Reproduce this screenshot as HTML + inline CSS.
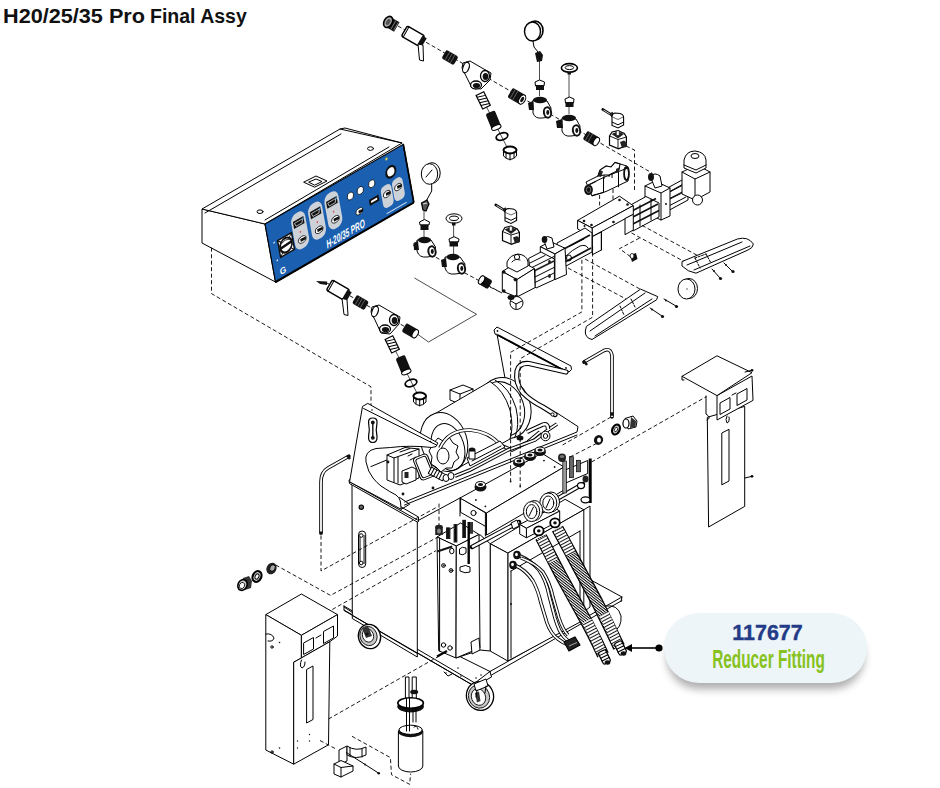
<!DOCTYPE html>
<html><head><meta charset="utf-8">
<style>
html,body{margin:0;padding:0;background:#fff;}
body{width:940px;height:788px;overflow:hidden;position:relative;font-family:"Liberation Sans",sans-serif;}
#t,#t2{position:absolute;left:3px;top:5px;font-weight:bold;font-size:19.5px;line-height:22px;color:#111;white-space:nowrap;letter-spacing:0px;transform:scaleX(1.11);transform-origin:0 0;}
#t2{left:150px;transform:scaleX(1.0);}
svg{position:absolute;left:0;top:0;}
.l{fill:none;stroke:#000;stroke-width:1;stroke-linejoin:round;stroke-linecap:round;}
.w{fill:#fff;stroke:#000;stroke-width:1;stroke-linejoin:round;}
.k{fill:#111;stroke:#000;stroke-width:1;}
.d{fill:none;stroke:#000;stroke-width:0.9;stroke-dasharray:4 2.5;}
.t{fill:none;stroke:#000;stroke-width:0.7;}
.g{fill:#bbb;stroke:#000;stroke-width:0.6;}
#callout{position:absolute;left:664px;top:613px;width:203px;height:70px;border-radius:35px;background:#edf5f8;box-shadow:0 9px 9px -3px rgba(0,0,0,0.33);}
#cn{position:absolute;left:1.5px;top:6.5px;width:100%;text-align:center;font-weight:bold;font-size:22px;color:#233b87;transform:scaleX(0.975);transform-origin:50% 0;-webkit-text-stroke:0.4px #233b87;}
#cr{position:absolute;left:-17.5px;top:31px;width:243px;text-align:center;font-size:25.6px;line-height:30px;color:#86c220;font-weight:bold;transform:scaleX(0.6);transform-origin:50% 0;}
</style></head><body>
<svg width="940" height="788" viewBox="0 0 940 788">
<defs>
  <pattern id="hatch" width="4" height="2.1" patternUnits="userSpaceOnUse" patternTransform="rotate(38)">
    <rect width="4" height="2.1" fill="#fff"/>
    <line x1="0" y1="0.5" x2="4" y2="0.5" stroke="#000" stroke-width="1"/>
  </pattern>
  <pattern id="coil" width="4" height="3" patternUnits="userSpaceOnUse" patternTransform="rotate(-28)">
    <rect width="4" height="3" fill="#fff"/>
    <line x1="0" y1="0.5" x2="4" y2="0.5" stroke="#000" stroke-width="0.9"/>
  </pattern>
</defs>
<g id="dashes">
</g>
<g id="ctrlbox">
  <!-- left face -->
  <path class="w" d="M202,209 L265,224 L275.5,282 L202,243 Z" stroke-width="1.6"/>
  <!-- top face -->
  <path class="w" d="M202,209 L340,129 L402,143 L265,224 Z" stroke-width="1.6"/>
  <path class="l" d="M205,213 L341,134 M265,220 L389,147 M340,129 L345,128 L402,143"/>
  <ellipse class="l" cx="370.5" cy="148.6" rx="3" ry="1.8"/>
  <ellipse class="l" cx="260" cy="211.7" rx="3" ry="1.8"/>
  <path class="l" d="M304,182 L316,176 L327,181 L315,187 Z M309,182 L316,179 L322,181.5 L315,185 Z"/>
  <!-- blue panel -->
  <g transform="matrix(0.867,-0.499,0.178,0.984,265,224)">
    <rect x="0" y="0" width="159.5" height="59" fill="#1a5fb0" stroke="#000" stroke-width="1.2"/>
    <path d="M0,59 L159.5,59" stroke="#000" stroke-width="2.2"/>
    <path d="M159.5,0 L159.5,59" stroke="#000" stroke-width="1.8"/>
    <g fill="#cdd1d8">
      <rect x="27.5" y="6.5" width="16" height="36" rx="7"/>
      <rect x="47" y="6.5" width="16" height="36" rx="7"/>
      <rect x="66" y="5.5" width="16" height="36" rx="7"/>
      <rect x="127" y="28" width="12" height="22" rx="5"/>
      <rect x="140" y="27.5" width="12" height="22" rx="5"/>
    </g>
    <g fill="#111">
      <rect x="29.5" y="13" width="12" height="7"/>
      <rect x="49" y="13" width="12" height="7"/>
      <rect x="68" y="12" width="12" height="7"/>
    </g>
    <g fill="none" stroke="#fff" stroke-width="0.6">
      <path d="M31,15 L40,15 L39,18.5 L32,18.5 Z"/>
      <path d="M50.5,15 L59.5,15 L58.5,18.5 L51.5,18.5 Z"/>
      <path d="M69.5,14 L78.5,14 L77.5,17.5 L70.5,17.5 Z"/>
    </g>
    <g fill="#4aa8e8"><rect x="40" y="14" width="1.2" height="2"/><rect x="59.5" y="14" width="1.2" height="2"/><rect x="78.5" y="13" width="1.2" height="2"/></g>
    <g fill="#fff" stroke="#111" stroke-width="0.8">
      <ellipse cx="36" cy="34" rx="4.5" ry="3.2"/>
      <ellipse cx="55.5" cy="34" rx="4.5" ry="3.2"/>
      <ellipse cx="74.5" cy="33" rx="4.5" ry="3.2"/>
      <ellipse cx="133" cy="37" rx="4" ry="3"/>
      <ellipse cx="146" cy="36.5" rx="4" ry="3"/>
      <ellipse cx="101" cy="38.3" rx="4" ry="3"/>
      <circle cx="94.5" cy="19.5" r="3.6"/>
      <circle cx="105.9" cy="19.6" r="3.6"/>
      <circle cx="119.1" cy="19.5" r="3.6"/>
      <circle cx="141.3" cy="18.6" r="5.2" stroke-width="2.2"/>
    </g>
    <g fill="#111">
      <path d="M34,32.5 L40,33 L40,35.5 L34,35.5 Z"/><path d="M53.5,32.5 L59.5,33 L59.5,35.5 L53.5,35.5 Z"/><path d="M72.5,31.5 L78.5,32 L78.5,34.5 L72.5,34.5 Z"/>
      <path d="M132,35.5 L137,36 L137,38.5 L132,38.5 Z"/><path d="M145,35 L150,35.5 L150,38 L145,38 Z"/><path d="M100,37.3 L105,37.8 L105,40.3 L100,40.3 Z"/>
    </g>
    <circle cx="139.2" cy="4.5" r="1.3" fill="#e8d84a"/>
    <rect x="113" y="33" width="11" height="6" fill="#111"/>
    <rect x="115" y="35" width="7" height="2" fill="#fff"/>
    <!-- rotary switch -->
    <rect x="10" y="22" width="16" height="17" fill="#fff" stroke="#111" stroke-width="1.5"/>
    <path d="M10,22 L13,25 M26,22 L23,25 M10,39 L13,36 M26,39 L23,36" stroke="#111" stroke-width="1"/>
    <circle cx="18" cy="30.5" r="6.8" fill="#fff" stroke="#111" stroke-width="2"/>
    <path d="M11.5,31 L24.5,30" stroke="#111" stroke-width="2.6"/>
    <path d="M13,27 Q18,24 23,27" fill="none" stroke="#111" stroke-width="0.8"/>
    <text x="6.5" y="55.5" fill="#fff" font-family="Liberation Sans" font-weight="bold" font-size="9">G</text>
    <text x="60" y="55.5" fill="#fff" font-family="Liberation Sans" font-weight="bold" font-size="11.5" transform="translate(60,55.5) scale(0.64,1) skewX(-8) translate(-60,-55.5)">H-20/35 PRO</text>
    <path d="M129,55 L152,55" stroke="#fff" stroke-width="1.2" opacity="0.8"/>
    <g fill="#dbe6f5"><circle cx="6" cy="22" r="0.9"/><circle cx="6" cy="40" r="0.9"/></g>
    <g fill="#e05050"><circle cx="35.5" cy="26" r="0.9"/><circle cx="55" cy="26" r="0.9"/><circle cx="74" cy="25" r="0.9"/></g>
  </g>
</g>
<g id="chain1">
  <path class="d" d="M398,26 L652,173" stroke-dasharray="5 2 1 2"/>
  <path class="d" d="M626,146 L634.5,150 L634.5,190"/>
  <path class="t" d="M483,100 L510,153 M539.5,61 L539.5,96 M569,74 L569,114"/>
  <!-- cap -->
  <g transform="rotate(30 391 23)">
    <rect x="390" y="18" width="8" height="11" fill="#111"/>
    <path d="M391,19 L391,28 M394,18 L394,29 M397,19 L397,28" stroke="#888" stroke-width="0.8"/>
    <ellipse cx="388" cy="23.5" rx="4" ry="6" fill="#aaa" stroke="#000" stroke-width="1.6"/>
    <ellipse cx="388" cy="23.5" rx="2" ry="3.2" fill="#555"/>
  </g>
  <!-- ball valve -->
  <g transform="rotate(30 413 36)">
    <rect x="403" y="30" width="20" height="12" rx="2" fill="#fff" stroke="#000" stroke-width="1.4"/>
    <path class="l" d="M405,30 L405,42"/>
    <rect x="421" y="31" width="5" height="10" fill="#111"/>
  </g>
  <path class="w" d="M418,44 L423,45 L423.5,61 L419.5,60 Z" stroke-width="1.1"/>
  <!-- nipple -->
  <g transform="rotate(30 450 57.5)"><rect x="443" y="52.5" width="14" height="10" rx="2" fill="#111"/>
   <path d="M447,53 L447,62 M450,53 L450,62 M453,53 L453,62" stroke="#777" stroke-width="0.7"/></g>
  <!-- Y strainer -->
  <path class="w" d="M463,63 L470,61 L482,68 L491,73 L490,80 L481,89 L472,88 L466,76 L462,68 Z" stroke-width="1.3"/>
  <ellipse cx="466" cy="67.5" rx="3" ry="5.5" fill="#fff" stroke="#000" stroke-width="1.2" transform="rotate(20 466 67.5)"/>
  <ellipse cx="485" cy="76" rx="4.5" ry="5.5" fill="#fff" stroke="#000" stroke-width="1.3"/>
  <ellipse cx="485.5" cy="76.5" rx="2.8" ry="3.6" fill="#111"/>
  <ellipse cx="476" cy="85" rx="5.5" ry="4" fill="#fff" stroke="#000" stroke-width="1.3"/>
  <ellipse cx="476.5" cy="85.5" rx="3.6" ry="2.6" fill="#111"/>
  <!-- fitting -->
  <g transform="rotate(30 517 96.5)"><rect x="509" y="91" width="16" height="11" rx="2" fill="#111"/>
   <ellipse cx="523" cy="96.5" rx="3" ry="5" fill="#fff" stroke="#000"/><ellipse cx="523" cy="96.5" rx="1.5" ry="3" fill="#111"/>
   <path d="M512,91 L512,102 M515,91 L515,102" stroke="#777" stroke-width="0.7"/></g>
  <!-- screen -->
  <g transform="rotate(-26 483 100.5)"><rect x="479" y="93" width="8.5" height="15" fill="#fff" stroke="#000" stroke-width="1.2"/>
   <path d="M479,95 L487.5,97 M479,98 L487.5,100 M479,101 L487.5,103 M479,104 L487.5,106" stroke="#000" stroke-width="1"/></g>
  <!-- filter -->
  <g transform="rotate(-22 493.5 120.5)"><rect x="488.5" y="111.5" width="10" height="18" rx="2" fill="#111"/>
   <ellipse cx="493.5" cy="128" rx="5" ry="2.2" fill="#fff" stroke="#000"/></g>
  <!-- o-ring -->
  <ellipse cx="502" cy="136.5" rx="6" ry="3.4" fill="none" stroke="#000" stroke-width="1.8" transform="rotate(-18 502 136.5)"/>
  <!-- plug -->
  <path class="w" d="M503.5,150 L503.5,156 Q510,163 516.5,156 L516.5,150 Z" stroke-width="1.2"/>
  <ellipse cx="510" cy="150" rx="6.5" ry="3.5" fill="#fff" stroke="#000" stroke-width="2"/>
  <path class="l" d="M506,152 L506,158 M510,153 L510,160 M514,152 L514,158" stroke-width="0.6"/>
  <!-- gauge 1 -->
  <ellipse cx="535" cy="30.5" rx="8" ry="9.5" fill="#fff" stroke="#000" stroke-width="1.6"/>
  <ellipse cx="532.5" cy="31.5" rx="8" ry="9.5" fill="#fff" stroke="#000" stroke-width="1.4"/>
  <path class="l" d="M533,41 L534,47 L538,52"/>
  <path d="M535,53 L540,51 L543,55 L542,61 L537,62 Z" fill="#111"/>
  <!-- plug tee1 -->
  <path class="w" d="M535,82 L539.5,80 L544.5,82 L544,86 L535.5,86 Z"/>
  <rect x="536" y="85" width="8" height="5" fill="#111"/>
  <!-- tee1 -->
  <path class="w" d="M533,100 L533,113 Q535,119 542,118 L550,117 L551,108 L547,101 Z" stroke-width="1.3"/>
  <ellipse cx="540" cy="100" rx="7" ry="3.3" fill="#111"/>
  <ellipse cx="547.5" cy="112.5" rx="3.6" ry="5.2" fill="#fff" stroke="#111" stroke-width="2" transform="rotate(-10 547.5 112.5)"/><ellipse cx="547.8" cy="112.5" rx="1.5" ry="2.4" fill="#111"/>
  <path d="M528,103 L533,101 L534,110 L529,110 Z" fill="#111"/>
  <!-- gauge 2 -->
  <ellipse cx="569.4" cy="67.9" rx="8" ry="4.3" fill="#fff" stroke="#000" stroke-width="1.6"/>
  <ellipse cx="569.4" cy="67.6" rx="4.2" ry="2" fill="none" stroke="#000" stroke-width="1"/>
  <rect x="567.5" y="71.5" width="3.5" height="3" fill="#111"/>
  <!-- plug tee2 -->
  <path class="w" d="M565,99 L569.5,97 L574,99 L573.5,103 L565.5,103 Z"/>
  <rect x="565.5" y="102" width="8" height="5" fill="#111"/>
  <!-- tee2 -->
  <path class="w" d="M562,118 L562,131 Q564,137 571,136 L579,135 L580,126 L576,119 Z" stroke-width="1.3"/>
  <ellipse cx="569" cy="118" rx="7" ry="3.3" fill="#111"/>
  <ellipse cx="576.5" cy="130.5" rx="3.6" ry="5.2" fill="#fff" stroke="#111" stroke-width="2" transform="rotate(-10 576.5 130.5)"/><ellipse cx="576.8" cy="130.5" rx="1.5" ry="2.4" fill="#111"/>
  <path d="M556,121 L562,119 L563,128 L557,128 Z" fill="#111"/>
  <!-- fitting -->
  <g transform="rotate(30 592 139)"><rect x="584" y="134" width="15" height="10" rx="2" fill="#111"/>
   <ellipse cx="597" cy="139" rx="2.6" ry="4.5" fill="#fff" stroke="#000"/>
   <path d="M587,134 L587,144 M590,134 L590,144" stroke="#777" stroke-width="0.7"/></g>
  <!-- solenoid connector -->
  <path d="M602.7,109.4 L611.0,114.5" stroke="#000" stroke-width="2.6" stroke-linecap="round"/>
  <path d="M603.5,110.0 L610.0,114.0" stroke="#fff" stroke-width="0.8"/>
  <path d="M609.5,113.5 L612.5,111.8 L614.5,115.5 L611.5,117.2 Z" fill="#222"/>
  <path d="M612.0,116.5 Q612.0,113.5 615.0,113.0 L620.0,113.5 Q623.6,114.5 623.6,117.5 L623.6,125.0 L618.0,128.0 L612.0,125.5 Z" fill="#fff" stroke="#000" stroke-width="1.1"/>
  <path d="M612.0,122.0 L618.0,124.8 L623.6,122.0" fill="none" stroke="#000" stroke-width="1"/>
  <path d="M612.5,117.0 L618.0,119.5 L623.2,117.0" fill="none" stroke="#000" stroke-width="0.6"/>
  <path d="M609.5,136.0 L612.0,132.0 L618.0,130.7 L624.3,133.5 L626.4,137.0 L626.4,145.5 L618.5,148.8 L609.5,145.0 Z" fill="#fff" stroke="#000" stroke-width="1.2"/>
  <path d="M611.5,134.0 L617.5,131.5 L624.0,134.0 L618.0,138.5 Z" fill="#222"/>
  <path d="M616.3,130.8 L619.3,130.8 L619.3,135.5 L616.3,135.5 Z" fill="#fff" stroke="#000" stroke-width="0.6"/>
  <path d="M609.5,136.0 L618.0,139.5 L626.4,137.0 M618.0,139.5 L618.0,148.5" fill="none" stroke="#000" stroke-width="0.9"/>
  <path d="M620.0,142.0 L624.0,140.5 L627.0,143.0 L626.5,147.0 L622.0,148.0 Z" fill="#222"/>
</g>
<g id="pumpline">
  <!-- section between manifold and right end (rails, behind) -->
  <path class="w" d="M633,207 L682,180 L688,183 L688,200 L640,226 L633,222 Z"/>
  <path class="l" d="M636,210 L683,185 M636,216 L684,191 M640,221 L686,197 M667,193 L687,182 M670,199 L688,190" stroke-width="0.8"/>
  <!-- right end block -->
  <path class="w" d="M682,172 L697,165 L710,172 L710,192 L695,200 L682,194 Z" stroke-width="1.3"/>
  <path class="l" d="M682,172 L695,179 L710,172 M695,179 L695,200"/>
  <circle cx="697.5" cy="200" r="5" class="w"/>
  <path class="w" d="M684,160 Q686,151 695,151 Q705,152 706,160 L706,168 L696,173 L684,168 Z" stroke-width="1.2"/>
  <ellipse cx="695" cy="156" rx="4" ry="2.5" class="w"/>
  <path class="l" d="M684,165 L696,170 L706,165"/>
  <!-- second center block -->
  <path class="w" d="M645,186 L655,181 L670,188 L670,216 L661,220 L645,212 Z" stroke-width="1.2"/>
  <path class="l" d="M645,186 L661,193 L670,188 M661,193 L661,220"/>
  <circle cx="666" cy="204" r="1" fill="#111"/>
  <!-- elbow -->
  <path class="w" d="M650,176 Q655,172 660,176 L662,186 L655,188 Z"/>
  <ellipse cx="651" cy="177" rx="3" ry="4" fill="#111"/>
  <!-- section 3 (rails between manifold and 2nd block), in front of block2 left face -->
  <path class="w" d="M627,207 L646,196.5 L659,203 L659,217 L633,231 L627,227 Z" stroke-width="1"/>
  <path d="M630,212 L656,198.5 M630,218.5 L658,204 M631,225 L659,210.5" stroke="#111" stroke-width="1.7"/>
  <path class="l" d="M640,205 L640,226 M651,199 L651,220" stroke-width="0.8"/>
  <!-- directional valve -->
  <path class="w" d="M586,182 L598,176 L600,170 L606,166 L611,167 L615,162.5 L620,164 L627,166 Q630,170 628,181 L606,191.5 L592,196 Z" stroke-width="1.2"/>
  <path class="l" d="M588,185 L603.5,177.5 L618.5,171.5 L628,168" stroke-width="1.1"/>
  <path class="l" d="M603.5,177.5 L603.5,192.5 M618.5,171.5 L618.5,186.8" stroke-width="1.1"/>
  <path d="M598,176 L600,170 L606,166 L611,167 L615,162.5 L620,164 L619,170 L609,175 L604,175 Z" fill="#fff" stroke="#000" stroke-width="1.1"/>
  <path d="M604,175 L604,179 M609,175 L609,177 M612,173 L612,178" stroke="#000" stroke-width="1"/>
  <path d="M598,176 L600,170 L603,171.5 L601,177 Z" fill="#222"/>
  <path d="M616,169 L619,167.5 L619,172 L616,173 Z" fill="#222"/>
  <ellipse cx="626.5" cy="173.5" rx="2.4" ry="6.5" fill="none" stroke="#111" stroke-width="1.8"/>
  <ellipse cx="588.5" cy="189.8" rx="4.4" ry="5.2" fill="#111"/>
  <ellipse cx="588.6" cy="189.8" rx="2.2" ry="2.8" fill="none" stroke="#888" stroke-width="0.8"/>
  <path class="l" d="M590,184.5 L596,181.5 M592,195.5 L603.5,192.5" stroke-width="0.8"/>
  <path class="d" d="M599.6,195 L599.6,213 M613,189 L613,213"/>
  <!-- manifold -->
  <path class="w" d="M577.6,220.4 L619.5,196.2 L633.3,205.7 L592.1,228 Z" stroke-width="1.2"/>
  <path class="w" d="M592.1,228 L633.3,205.7 L633.3,214.3 L592.1,236.6 Z" stroke-width="1.2"/>
  <path class="w" d="M577.6,220.4 L592.1,228 L592.1,236.6 L577.6,229 Z" stroke-width="1.2"/>
  <path class="w" d="M592.4,236.6 L601.4,232 L601.4,250 L592.4,254.7 Z" stroke-width="1.1"/>
  <path class="l" d="M601.4,232 L601.4,250" stroke-width="1.6"/>
  <path class="w" d="M625,218.5 L633.3,214.3 L633.3,230 L625,234.7 Z" stroke-width="1"/>
  <g fill="#111"><circle cx="584" cy="221" r="1.3"/><circle cx="591.5" cy="225" r="1.3"/><circle cx="619.5" cy="200" r="1.3"/><circle cx="627.5" cy="204.5" r="1.3"/><circle cx="613.5" cy="222" r="1.3"/><circle cx="584.5" cy="226" r="1"/></g>
  <!-- section 2: pump cylinder between block1 and manifold -->
  <path class="w" d="M557,243 L585,228 L592,233 L592,252 L566,266 L560,262 Z"/>
  <path d="M562,250 L590,235 M565,262 L591,248" stroke="#111" stroke-width="1.8"/>
  <path class="l" d="M566,256 Q572,250 580,246 Q586,244 588,248 M570,246 L584,239"/>
  <ellipse cx="569" cy="258" rx="2.5" ry="3" class="l"/>
  <!-- first center block -->
  <path class="w" d="M540.3,246.7 L550.5,241.6 L565,248.2 L554.9,254 Z" stroke-width="1.2"/>
  <path class="w" d="M540.3,246.7 L554.9,254 L554.9,279.6 L540.3,272 Z" stroke-width="1.2"/>
  <path class="w" d="M554.9,254 L565,248.2 L566.5,274.5 L554.9,279.6 Z" stroke-width="1.2"/>
  <circle cx="548" cy="266" r="1" fill="#111"/>
  <path class="w" d="M543,238 Q548,235 552,238 L554,247 L547,249 Z"/>
  <ellipse cx="544.5" cy="239.5" rx="2.8" ry="3.5" fill="#111"/>
  <!-- section 1 tie rods (in front of block1 left face) -->
  <path class="w" d="M528.6,258.4 L541,252 L554.4,259 L554.4,279.6 L536,288 L532,284 Z" stroke-width="1"/>
  <path class="l" d="M530,263 L545,255.5 M531,268 L554,256.5 M533,278 L554,267.5 M534,283 L554,273" stroke-width="0.9"/>
  <path d="M532,272 L554,261" stroke="#222" stroke-width="1.6"/>
  <path class="l" d="M535,270 L535,286" stroke-width="0.8"/>
  <ellipse cx="549.5" cy="262" rx="1.4" ry="2" fill="#222"/><ellipse cx="549.5" cy="276" rx="1.4" ry="2" fill="#222"/>
  <!-- left end block -->
  <path class="w" d="M502.3,271.5 L519.8,260.5 L534.4,268.6 L516.9,279.6 Z" stroke-width="1.2"/>
  <path class="w" d="M502.3,271.5 L516.9,279.6 L516.9,297 L502.3,291.2 Z" stroke-width="1.3"/>
  <path class="w" d="M516.9,279.6 L534.4,268.6 L535.1,287.6 L516.9,297 Z" stroke-width="1.3"/>
  <path class="w" d="M507,262 Q510,255 518,254 Q527,255 528,262 L528,266 L517,272 L507,267 Z" stroke-width="1.1"/>
  <path class="l" d="M512,262 Q515,258 520,260"/>
  <circle cx="517" cy="257" r="2.6" class="w"/>
  <g fill="#111"><circle cx="503.8" cy="272" r="1.8"/><circle cx="515.4" cy="279.6" r="1.8"/><circle cx="503.8" cy="291" r="1.8"/><circle cx="516.2" cy="296.5" r="1.8"/></g>
  <circle cx="516.5" cy="303" r="6.5" class="w" stroke-width="1.2"/>
  <path class="l" d="M511,301 L516,304 L522,301 M516,304 L516,309"/>
  <ellipse cx="511" cy="297.5" rx="3.5" ry="2.5" fill="#111"/>
  <!-- left fitting -->
  <g transform="rotate(30 485 282)"><rect x="479" y="277" width="12" height="10" rx="2" fill="#111"/>
  <ellipse cx="481" cy="282" rx="2.5" ry="4.5" fill="#fff" stroke="#000"/></g>
  <path class="d" d="M490,287 L502,293" stroke-dasharray="5 2 1 2"/>
</g>
<g id="chain2">
  <path class="d" d="M413,245 L502,293" stroke-dasharray="5 2 1 2"/>
  <path class="t" d="M424,211 L424,237 M453.6,223 L453.6,254"/>
  <!-- gauge big -->
  <ellipse cx="432" cy="173" rx="8.2" ry="10.3" class="w" stroke-width="1.5"/>
  <ellipse cx="429.5" cy="174" rx="8.2" ry="10.3" class="w" stroke-width="1.4"/>
  <path class="l" d="M426,177 L432,170" stroke-width="0.8"/>
  <path class="l" d="M431.7,184.3 L431.7,191 L426,201.4"/>
  <path d="M421.5,203 L427,200 L429,204 L426,211 L423,210 Z" fill="#555" stroke="#000" stroke-width="1.2"/><path d="M423,204 L427,203" stroke="#fff" stroke-width="0.8"/>
  <!-- plug -->
  <path class="w" d="M419.5,222 L424.5,219.5 L429.5,222 L429,225 L420,225 Z"/>
  <rect x="420.5" y="224.5" width="8" height="5.5" fill="#111"/>
  <!-- tee -->
  <path class="w" d="M417,240 L417,251 Q419,258 427,257 L434,256 L435.5,247 L431,240 Z" stroke-width="1.3"/>
  <ellipse cx="424.5" cy="240" rx="6.5" ry="3.2" fill="#111"/>
  <ellipse cx="432" cy="251.5" rx="3.6" ry="5.2" fill="#fff" stroke="#111" stroke-width="2" transform="rotate(-10 432 251.5)"/><ellipse cx="432.3" cy="251.5" rx="1.5" ry="2.4" fill="#111"/>
  <path d="M413.5,243 L418,241 L419,250 L414,250 Z" fill="#111"/>
  <!-- flat gauge -->
  <ellipse cx="454" cy="218.5" rx="8" ry="4.7" class="w" stroke-width="1.7"/>
  <ellipse cx="454" cy="218.3" rx="4.5" ry="2.2" class="l"/>
  <rect x="452" y="222.5" width="3.5" height="3" fill="#111"/>
  <!-- plug 2 -->
  <path class="w" d="M449,239 L454,236.7 L459,239 L458.5,242 L449.5,242 Z"/>
  <rect x="449.5" y="241.5" width="8.5" height="5" fill="#111"/>
  <!-- tee 2 -->
  <path class="w" d="M445,257 L445,268 Q447,275 455,274 L463,273 L465,264 L460,257 Z" stroke-width="1.3"/>
  <ellipse cx="453" cy="257" rx="6.5" ry="3.2" fill="#111"/>
  <ellipse cx="461.5" cy="268.5" rx="3.6" ry="5.2" fill="#fff" stroke="#111" stroke-width="2" transform="rotate(-10 461.5 268.5)"/><ellipse cx="461.8" cy="268.5" rx="1.5" ry="2.4" fill="#111"/>
  <path d="M441,260 L446,258 L447,267 L442,267 Z" fill="#111"/>
  <!-- solenoid connector + coil -->
  <path d="M495.7,204.9 L504.0,210.0" stroke="#000" stroke-width="2.6" stroke-linecap="round"/>
  <path d="M496.5,205.5 L503.0,209.5" stroke="#fff" stroke-width="0.8"/>
  <path d="M502.5,209.0 L505.5,207.3 L507.5,211.0 L504.5,212.7 Z" fill="#222"/>
  <path d="M505.0,212.0 Q505.0,209.0 508.0,208.5 L513.0,209.0 Q516.6,210.0 516.6,213.0 L516.6,220.5 L511.0,223.5 L505.0,221.0 Z" fill="#fff" stroke="#000" stroke-width="1.1"/>
  <path d="M505.0,217.5 L511.0,220.3 L516.6,217.5" fill="none" stroke="#000" stroke-width="1"/>
  <path d="M505.5,212.5 L511.0,215.0 L516.2,212.5" fill="none" stroke="#000" stroke-width="0.6"/>
  <path d="M502.5,231.5 L505.0,227.5 L511.0,226.2 L517.3,229.0 L519.4,232.5 L519.4,241.0 L511.5,244.3 L502.5,240.5 Z" fill="#fff" stroke="#000" stroke-width="1.2"/>
  <path d="M504.5,229.5 L510.5,227.0 L517.0,229.5 L511.0,234.0 Z" fill="#222"/>
  <path d="M509.3,226.3 L512.3,226.3 L512.3,231.0 L509.3,231.0 Z" fill="#fff" stroke="#000" stroke-width="0.6"/>
  <path d="M502.5,231.5 L511.0,235.0 L519.4,232.5 M511.0,235.0 L511.0,244.0" fill="none" stroke="#000" stroke-width="0.9"/>
  <path d="M513.0,237.5 L517.0,236.0 L520.0,238.5 L519.5,242.5 L515.0,243.5 Z" fill="#222"/>
</g>
<g id="chain3">
  <path class="t" d="M414.5,278 L476.5,314.3 L428.5,342 L418,334.5"/>
  <path class="d" d="M327,283 L418,334" stroke-dasharray="5 2 1 2"/>
  <path class="t" d="M392,344 L420,399"/>
  <path d="M316,281 L327,281.5 L327,285 L320,284 Z" fill="#111"/>
  <g transform="rotate(30 338 290)">
    <rect x="328" y="284" width="20" height="12" rx="2" fill="#fff" stroke="#000" stroke-width="1.4"/>
    <path class="l" d="M330,284 L330,296"/>
    <rect x="346" y="285" width="5" height="10" fill="#111"/>
  </g>
  <path class="w" d="M342,298.5 L347,299.5 L348,315.5 L344,314.5 Z" stroke-width="1.1"/>
  <g transform="rotate(30 360.5 302.5)"><rect x="353.5" y="297.5" width="14" height="10" rx="2" fill="#111"/>
   <path d="M357,298 L357,307 M360,298 L360,307 M363,298 L363,307" stroke="#777" stroke-width="0.7"/></g>
  <path class="w" d="M372,307 L379,305 L391,312 L400,317 L399,324 L390,334 L381,333 L375,320 L371,312 Z" stroke-width="1.3"/>
  <ellipse cx="375" cy="311.5" rx="3" ry="5.5" fill="#fff" stroke="#000" stroke-width="1.2" transform="rotate(20 375 311.5)"/>
  <ellipse cx="394" cy="320" rx="4.5" ry="5.5" fill="#fff" stroke="#000" stroke-width="1.3"/>
  <ellipse cx="394.5" cy="320.5" rx="2.8" ry="3.6" fill="#111"/>
  <ellipse cx="385" cy="329" rx="5.5" ry="4" fill="#fff" stroke="#000" stroke-width="1.3"/>
  <ellipse cx="385.5" cy="329.5" rx="3.6" ry="2.6" fill="#111"/>
  <g transform="rotate(30 410.5 331)"><rect x="403" y="326" width="15" height="10" rx="2" fill="#111"/>
   <ellipse cx="416" cy="331" rx="2.6" ry="4.5" fill="#fff" stroke="#000"/></g>
  <g transform="rotate(-26 392 344.5)"><rect x="388" y="337" width="8.5" height="15" fill="#fff" stroke="#000" stroke-width="1.2"/>
   <path d="M388,339 L396.5,341 M388,342 L396.5,344 M388,345 L396.5,347 M388,348 L396.5,350" stroke="#000" stroke-width="1"/></g>
  <g transform="rotate(-22 403.5 365)"><rect x="398.5" y="356" width="10" height="18" rx="2" fill="#111"/>
   <ellipse cx="403.5" cy="372.5" rx="5" ry="2.2" fill="#fff" stroke="#000"/></g>
  <ellipse cx="411" cy="383" rx="6" ry="3.4" fill="none" stroke="#000" stroke-width="1.8" transform="rotate(-18 411 383)"/>
  <path class="w" d="M413.5,396 L413.5,402 Q419.5,409 426,402 L426,396 Z" stroke-width="1.2"/>
  <ellipse cx="419.7" cy="396" rx="6.3" ry="3.5" fill="#fff" stroke="#000" stroke-width="2"/>
  <path class="l" d="M416,398 L416,404 M419.7,399 L419.7,406 M423.5,398 L423.5,404" stroke-width="0.6"/>
</g>
<g id="trays">
  <!-- upper tray -->
  <path class="w" d="M682,261.5 L737.4,239 Q748,236 753.4,244 Q753,248 748,250 L696,273.2 Q688,272 682,266 Z" stroke-width="1.2"/>
  <path class="l" d="M687,265 L742,242 M694,270 L750,246" stroke-width="0.8"/>
  <path class="l" d="M695,258 L700,268 M706,254 L711,263 M695,258 L706,254" stroke-width="0.6" stroke-dasharray="2 1.5"/>
  <g class="l" stroke-width="1"><path d="M712,269 L720,278 M724,263 L732,271"/></g>
  <g fill="#111"><circle cx="720.5" cy="278.5" r="1.6"/><circle cx="733" cy="271.5" r="1.6"/><circle cx="714" cy="271" r="1"/><circle cx="726" cy="265" r="1"/></g>
  <!-- knob -->
  <ellipse cx="689" cy="288.5" rx="8.5" ry="10" class="w" stroke-width="1.2"/>
  <ellipse cx="686.5" cy="289" rx="8.5" ry="10" class="w" stroke-width="1.2"/>
  <circle cx="687" cy="289" r="0.8" fill="#555"/>
  <!-- lower tray -->
  <path class="w" d="M586.4,326.4 L640.6,289.1 L657.7,296.6 L656.6,299.8 L592,339.5 Q585,338 585.3,331 Z" stroke-width="1.2"/>
  <path class="l" d="M590,331 L645,293 M595,336 L652,299" stroke-width="0.8"/>
  <path class="l" d="M620,306 L624,315 M631,299 L635,307" stroke-width="0.6" stroke-dasharray="2 1.5"/>
  <g class="l" stroke-width="1"><path d="M664,299 L676,306 M650,308 L662,316"/></g>
  <g fill="#111"><circle cx="676.5" cy="306.5" r="1.6"/><circle cx="662.5" cy="316.5" r="1.6"/><circle cx="666" cy="300.5" r="1"/><circle cx="652" cy="309.5" r="1"/></g>
  <!-- small fitting -->
  <path d="M630,255 L636,253 L637.5,259 L632,262 Z" fill="#111"/>
  <ellipse cx="632" cy="256" rx="2" ry="2.5" fill="#fff" stroke="#000" stroke-width="0.8"/>
</g>
<g id="dash2">
  <path class="d" d="M568,268 L626,299 M585,259 L641,289.6"/>
  <path class="d" d="M639.6,238 L619.4,248.7 L632,257.7"/>
  <path class="d" d="M631.5,233 L683.6,261.2 M642,225.4 L697,255.2"/>
  <path class="d" d="M211.5,247.7 L211.5,293.6 L371,386.8 L371,406"/>
</g>
<g id="bracketarm">
  <!-- U tube -->
  <path d="M584,362 L604,350.5 Q611,347.5 612,356 L612,417" fill="none" stroke="#000" stroke-width="3.6" stroke-linecap="round"/>
  <path d="M584,362 L604,350.5 Q611,347.5 612,356 L612,417" fill="none" stroke="#fff" stroke-width="1.8"/>
  <path d="M583.5,360.5 L587,365" stroke="#111" stroke-width="2.5"/>
  <path d="M610.3,414 L613.7,414" stroke="#111" stroke-width="3.5"/>
  <!-- support arm -->
  <path class="w" d="M494,330 L497,327 L571,366 Q573,370 569,372 L566,371 L495,334 Z" stroke-width="1.2"/>
  <circle cx="497.5" cy="331" r="0.9" fill="#111"/><circle cx="566" cy="368" r="0.9" fill="#111"/>
  <path class="l" d="M497,334 L507.7,393"/>
  <path d="M498,335 L566,371.5" stroke="#000" stroke-width="1.8"/>
</g>
<g id="cabinet">
  <!-- cart base -->
  <path d="M344,606 L474.9,684 L492,674 L622,599 L622,594 L592,579 L560,590 L420,600 L344,603 Z" fill="#fff"/>
  <path class="l" d="M344,606 L344,610 L474.9,686.4 L491.5,677 L490,671.5 M344,606 L474.9,683 L490,671.5 M474.9,683 L474.9,686.4" stroke-width="1.1"/>
  <path class="l" d="M490,671.5 L622,597 M491.5,675 L622,600.5" stroke-width="1.1"/>
  <path class="l" d="M460,656.6 L490,671.5" stroke-width="1"/>
  <path class="l" d="M592,580.6 L622,597 L621,601.5" stroke-width="1"/>
  <!-- left cabinet body -->
  <path class="w" d="M352,484 L417.3,521 L417.3,657 L352.3,618.5 Z" stroke-width="1.2"/>
  <path class="l" d="M344,607 L352.5,612.5 M344,610.5 L474.9,686.4" stroke-width="1.1"/>
  <path class="l" d="M352.5,615.5 L417.3,653.5" stroke-width="0.7"/>
  <!-- heater box (right) -->
  <path class="w" d="M490.2,543.7 L565.1,499.3 L583.8,509.8 L507.8,553.1 Z" stroke-width="1.2"/>
  <path class="w" d="M507.8,553.1 L583.8,509.8 L583.8,620 L507.8,661 Z" stroke-width="1.2"/>
  <path class="w" d="M490.2,543.7 L507.8,553.1 L507.8,661 L490.2,651 Z" stroke-width="1.2"/>
  <path class="l" d="M511,571 L580,531 M511,571 L511,658 M580,531 L580,617" stroke-width="0.8"/>
  <circle cx="511" cy="604" r="1" fill="#111"/>
  <!-- right cabinet body behind heat exchanger -->
  <path d="M460,498 L486.5,513 L486.5,545 L456,548 L456,520 Z" fill="#fff"/>
  <path class="l" d="M460.6,498.2 L485.4,512.8 L485.4,536 M460.6,498.2 L460.6,512.3 L485.4,526.3" stroke-width="1.1"/>
  <circle cx="473.5" cy="513" r="2.6" class="l" stroke-width="1"/>
  <path class="w" d="M456,548 L480,534.7 L490.2,543.7 L490.2,651 L480,650 L456,658 Z" stroke-width="1"/>
  <!-- right cabinet top face -->
  <path class="w" d="M460,498 L541.8,453.2 L564,467 L486.5,513 Z" stroke-width="1.2"/>
  <path class="w" d="M486.5,513 L564,467 L564,490 L490.2,533 L486.5,535 Z" stroke-width="1.2"/>
  <path class="l" d="M417.3,521 L460,498" stroke-width="1.2"/>
  <path class="l" d="M460,498 L460,516" stroke-width="0.9"/>
  <g fill="#111"><circle cx="544" cy="460.6" r="0.9"/><circle cx="554.6" cy="467" r="0.9"/><circle cx="475.9" cy="500" r="0.9"/><circle cx="485.4" cy="506.4" r="0.9"/></g>
  <!-- heat exchanger -->
  <path class="w" d="M437,537 L460.6,523 L479,534.5 L456.3,546 Z" stroke-width="1.1"/>
  <path class="w" d="M437,537 L456.3,546 L456,658 L438.7,650.7 Z" stroke-width="1.3"/>
  <path class="w" d="M456.3,546 L479,534.5 L480,648 L456,658 Z" stroke-width="1.2"/>
  <path class="l" d="M439.6,538 L439.6,651" stroke-width="1.6"/>
  <g class="l" stroke-width="1.2"><circle cx="443.5" cy="565.5" r="1.9"/><circle cx="451" cy="570.5" r="1.9"/><circle cx="443.5" cy="645" r="2.2"/><circle cx="450" cy="648" r="2.2"/></g>
  <g fill="#222"><circle cx="443.5" cy="565.5" r="1"/><circle cx="451" cy="570.5" r="1"/></g>
  <!-- cabinet top lip (left) -->
  <path class="w" d="M349,480 L352,478.5 L418.5,517 L418.5,521.5 L417.3,522 L349.5,483.5 Z" stroke-width="1"/>
  <path class="l" d="M350,482 L417.5,520" stroke-width="1.6"/>
  <!-- handle and screw on left face -->
  <rect x="358.5" y="531" width="7.2" height="36.5" rx="3.6" class="w" stroke-width="1.1"/>
  <path d="M360,537 L360,563" stroke="#000" stroke-width="1"/>
  <rect x="363.2" y="535" width="1.8" height="29" fill="#777"/>
  <circle cx="361.2" cy="535.5" r="1.8" class="w" stroke-width="1.2"/>
  <circle cx="361.2" cy="563" r="1.8" class="w" stroke-width="1.2"/>
  <circle cx="361.3" cy="507.2" r="2.2" fill="#666" stroke="#000" stroke-width="1.1"/>
  <!-- wheels -->
  <ellipse cx="369.5" cy="636.5" rx="11" ry="12.3" fill="#fff" stroke="#000" stroke-width="1.3" transform="rotate(-20 369.5 636.5)"/>
  <ellipse cx="368.5" cy="636" rx="8.5" ry="9.8" fill="#c8c8c8" stroke="#000" stroke-width="0.8" transform="rotate(-20 368.5 636)"/>
  <ellipse cx="368" cy="635.5" rx="5.5" ry="6.8" fill="#fff" stroke="#000" stroke-width="0.8" transform="rotate(-20 368 635.5)"/>
  <path d="M362,628 L368,626 L372,636 L366,638 Z" fill="#333"/>
  <circle cx="367" cy="634" r="1.6" fill="#111"/>
  <ellipse cx="480" cy="696" rx="13.5" ry="14.5" fill="#fff" stroke="#000" stroke-width="1.3" transform="rotate(-20 480 696)"/>
  <ellipse cx="479" cy="696.5" rx="10.5" ry="11.8" fill="#c8c8c8" stroke="#000" stroke-width="0.8" transform="rotate(-20 479 696.5)"/>
  <ellipse cx="478.5" cy="697" rx="7" ry="8.5" fill="#fff" stroke="#000" stroke-width="0.8" transform="rotate(-20 478.5 697)"/>
  <path d="M475,693 L479,691.5 L480.5,701 L477,702.5 Z" fill="#333"/>
  <path class="w" d="M474,684 L486,679 L488,686 L476,691 Z"/>
  <path class="l" d="M477,690 L476,697 M486,686 L485,693" stroke-width="1"/>
  <path class="l" d="M606,606 Q618,604 621,616 Q622,628 613,632" stroke-width="1.2"/>
</g>
<g id="motor">
  <!-- platform -->
  <path d="M370,467 L389,459 L556.7,412.8 L578,426.6 L577,432 L404.6,502 L395,497 Z" fill="#fff"/>
  <path class="l" d="M370.9,466.6 L389.2,459 M404.6,502 L577,432 L578,426.6 L556.7,412.8" stroke-width="1.1"/>
  <path class="l" d="M404.6,505 L577,435" stroke-width="0.9"/>
  <!-- S strap -->
  <!-- junction box -->
  <path class="w" d="M450,390 L463,385 L473,389 L473,398 L460,404 L450,400 Z" stroke-width="1.1"/>
  <path class="l" d="M450,390 L460,394 L473,389 M460,394 L460,404"/>
  <!-- back end bell -->
  <ellipse cx="505" cy="408" rx="25.5" ry="31" transform="rotate(-18 505 408)" class="w" stroke-width="1.2"/>
  <ellipse cx="502" cy="409" rx="22" ry="28" transform="rotate(-18 502 409)" class="l" stroke-width="0.8"/>
  <path d="M566,372 L529,363.5 Q519,362.5 517,371 Q515,383 523,393 Q531,401 543,407 L555,414.5" fill="none" stroke="#000" stroke-width="5.2" stroke-linecap="round"/>
  <path d="M566,372 L529,363.5 Q519,362.5 517,371 Q515,383 523,393 Q531,401 543,407 L555,414.5" fill="none" stroke="#fff" stroke-width="3" stroke-linecap="round"/>
  <circle cx="552.5" cy="414.5" r="1.6" class="w" stroke-width="1.2"/>
  <!-- body -->
  <path d="M428,418 L490,381.5 Q504,390 510,410 Q514,428 510,439 L460,467 Z" fill="#fff" stroke="none"/>
  <path class="l" d="M426,419 L490,381.5 M460,467 L510,439" stroke-width="1.2"/>
  <path class="l" d="M490,381.5 Q504,390 510,410 Q514,428 510,439" stroke-width="0.9"/>
  <path class="l" d="M495,380 Q510,388 516,408 Q520,426 515,437" stroke-width="0.8"/>
  <!-- front end bell -->
  <ellipse cx="444" cy="442" rx="23" ry="30" transform="rotate(-18 444 442)" class="w" stroke-width="1.2"/>
  <ellipse cx="448" cy="447" rx="16" ry="24" transform="rotate(-18 448 447)" class="l" stroke-width="0.9"/>
  <!-- pump -->
  <path class="w" d="M387,455 L405,447.5 L419,449 L419,478 L400,485 L387,480 Z" stroke-width="1"/>
  <path class="l" d="M387,455 L394,458 L419,449 M394,458 L394,482 M398,457 L398,483" stroke-width="0.8"/>
  <path class="l" d="M400,452 L410,448.5" stroke-width="0.8"/>
  <path class="w" d="M402,471 L412,467 L416,469 L416,480 L406,484 L402,482 Z" stroke-width="0.9"/>
  <rect x="404.5" y="472" width="4" height="6" fill="#222"/>
  <path class="l" d="M408,456 L412,454 M410,460 L416,457" stroke-width="0.8"/>
  <g transform="rotate(-22 424 467)">
    <rect x="416.5" y="455" width="15" height="24" rx="3.5" class="w" stroke-width="1.1"/>
    <rect x="418.5" y="457" width="11" height="20" rx="2.5" class="l" stroke-width="0.8"/>
  </g>
  <path class="w" d="M433,444 L438,438 L443,441 L449,437 L453,443 L458,446 L456,452 L459,458 L454,462 L452,468 L446,468 L441,472 L436,467 L431,464 L432,457 L429,451 Z" stroke-width="1"/>
  <ellipse cx="443" cy="456" rx="6" ry="8" class="w" stroke-width="1"/>
  <g transform="rotate(28 437 474)">
    <rect x="429" y="470.5" width="16" height="7" class="w" stroke-width="1"/>
    <path class="l" d="M432,470.5 L432,477.5 M435,470.5 L435,477.5 M438,470.5 L438,477.5 M441,470.5 L441,477.5" stroke-width="0.8"/>
  </g>
  <ellipse cx="446" cy="478" rx="3" ry="3.5" class="w" stroke-width="1.2"/>
  <ellipse cx="451" cy="476" rx="3" ry="3.5" class="w" stroke-width="1.2"/>
  <!-- bracket plate (left side) with cutout -->
  <path class="w" d="M362.5,406.4 L367.8,403.4 L437.9,443 L436,446.5 L431.8,447.5 Q410,445 390.7,447.5 L376,448.5 Q364,451 366,462 Q368,472 373,478 Q377,483 381,486 Q390,492 396,495 Q399.5,497.5 400.3,501 L401.2,509.3 L349.6,481.8 Z" stroke-width="1.2"/>
  <path class="l" d="M399.5,497.4 L409.7,504.2 L401.2,509.3" stroke-width="1.1"/>
  <path class="l" d="M363.6,408.5 L436.4,445" stroke-width="0.9"/>
  <path d="M372.8,418 Q377.5,418 377,423 Q375.5,430 377,436 Q377.5,442.5 372.8,442.5 Q368,442.5 368.6,436 Q370,430 368.6,423 Q368,418 372.8,418 Z" fill="#fff" stroke="#000" stroke-width="1.2"/>
  <circle cx="372.8" cy="422.5" r="1.9" fill="#111"/><circle cx="372.8" cy="437.8" r="1.9" fill="#111"/>
  <path d="M372.8,423 L372.8,437" stroke="#111" stroke-width="1.4"/>
  <circle cx="372" cy="410" r="0.8" fill="#111"/>
  <g fill="#111"><circle cx="388" cy="462" r="1.4"/><circle cx="403" cy="494" r="1.4"/><circle cx="433" cy="488" r="1.4"/><circle cx="430.5" cy="441.5" r="0.8"/></g>
  <!-- hoses over motor -->
  <path d="M440,448 Q448,430 470,430 Q490,432 500,445 L512,450 L528,442 L540,432" fill="none" stroke="#000" stroke-width="3.6"/>
  <path d="M440,448 Q448,430 470,430 Q490,432 500,445 L512,450 L528,442 L540,432" fill="none" stroke="#fff" stroke-width="1.8"/>
  <path d="M455,476 L470,470 L508,450 L535,440 L548,430 L557,424" fill="none" stroke="#000" stroke-width="3.6"/>
  <path d="M455,476 L470,470 L508,450 L535,440 L548,430 L557,424" fill="none" stroke="#fff" stroke-width="1.8"/>
  <path class="w" d="M467,458 L500,441 L505,447 L470,466 Z" stroke-width="1"/>
  <path class="l" d="M472,461 L501,446" stroke-width="0.7"/>
  <!-- elbow right -->
  <path d="M527,432 Q537,427 543,424.5 Q548,423 548,429" fill="none" stroke="#000" stroke-width="4.4"/>
  <path d="M527,432 Q537,427 543,424.5 Q548,423 548,429" fill="none" stroke="#fff" stroke-width="2.4"/>
  <ellipse cx="545.5" cy="436" rx="4.5" ry="4.8" class="w" stroke-width="1.4"/>
  <ellipse cx="545.5" cy="436" rx="2.2" ry="2.4" class="l"/>
  <!-- fittings on platform -->
  <g>
    <ellipse cx="519" cy="463" rx="6" ry="4" fill="#111"/><ellipse cx="519" cy="461" rx="5" ry="3" fill="#fff" stroke="#000"/><ellipse cx="519" cy="461" rx="2.6" ry="1.5" fill="#111"/>
    <ellipse cx="530" cy="457" rx="6" ry="4" fill="#111"/><ellipse cx="530" cy="455" rx="5" ry="3" fill="#fff" stroke="#000"/><ellipse cx="530" cy="455" rx="2.6" ry="1.5" fill="#111"/>
    <ellipse cx="540" cy="452" rx="6" ry="4" fill="#111"/><ellipse cx="540" cy="450" rx="5" ry="3" fill="#fff" stroke="#000"/><ellipse cx="540" cy="450" rx="2.6" ry="1.5" fill="#111"/>
    <ellipse cx="480.5" cy="487" rx="6" ry="4.5" fill="#111"/><ellipse cx="480.5" cy="484.5" rx="5" ry="3" fill="#fff" stroke="#000"/><ellipse cx="480.5" cy="484.5" rx="2.6" ry="1.5" fill="#111"/>
    <ellipse cx="472" cy="450" rx="3.5" ry="2.5" fill="#111"/><rect x="469" y="451" width="6" height="8" class="w"/>
    <ellipse cx="520" cy="438" rx="3.5" ry="2.5" fill="#111"/>
  </g>
</g>
<g id="front">
  <!-- right side vertical of cabinet/heater -->
  <path class="l" d="M583.8,509.8 L590,506 L590,607 L583.8,612" stroke-width="1"/>
  <!-- pipe from gauge block up right -->
  <path d="M555,500 L583,484" stroke="#000" stroke-width="4.5" stroke-linecap="round"/>
  <path d="M555,500 L583,484" stroke="#fff" stroke-width="2.5"/>
  <!-- gauge block -->
  <path class="w" d="M519.7,524.4 L554,507.3 L559.7,511.1 L526.4,528.3 Z" stroke-width="1.1"/>
  <path class="w" d="M526.4,528.3 L559.7,511.1 L559.7,520.6 L526.4,537.8 Z" stroke-width="1.1"/>
  <path class="w" d="M519.7,524.4 L526.4,528.3 L526.4,537.8 L519.7,534 Z" stroke-width="1.1"/>
  <!-- gauges -->
  <ellipse cx="551" cy="502" rx="8.5" ry="10" class="w" stroke-width="1.3"/>
  <ellipse cx="548.3" cy="503" rx="8.5" ry="10" class="w" stroke-width="1.5"/>
  <ellipse cx="548.3" cy="503" rx="5.5" ry="7" class="l" stroke-width="0.8"/>
  <path class="l" d="M546,508 L550,499" stroke-width="1.1"/>
  <ellipse cx="534.5" cy="510.5" rx="8.1" ry="10" class="w" stroke-width="1.3"/>
  <ellipse cx="531.6" cy="511.6" rx="8.1" ry="10" class="w" stroke-width="1.5"/>
  <ellipse cx="531.6" cy="511.6" rx="5.3" ry="7" class="l" stroke-width="0.8"/>
  <path class="l" d="M529,516 L533.5,507" stroke-width="1.1"/>
  <!-- pipe from heat exchanger to gauge block -->
  <path d="M472,547 L519,522" stroke="#000" stroke-width="4.5" stroke-linecap="round"/>
  <path d="M472,547 L519,522" stroke="#fff" stroke-width="2.5"/>
  <path class="w" d="M511,523 L517,520 L519,526 L513,529 Z"/>
  <!-- thin hoses -->
  <g fill="none">
    <path d="M518,555 Q532,561 539,570 Q546,580 549,595 L555,618 Q559,632 564,637 Q568,641 571,643" stroke="#000" stroke-width="3.6"/>
    <path d="M518,555 Q532,561 539,570 Q546,580 549,595 L555,618 Q559,632 564,637 Q568,641 571,643" stroke="#fff" stroke-width="1.8"/>
    <path d="M521,558 Q535,563 543,572 Q550,583 553,597 L559,618 Q563,630 568,635" stroke="#000" stroke-width="3.4"/>
    <path d="M521,558 Q535,563 543,572 Q550,583 553,597 L559,618 Q563,630 568,635" stroke="#fff" stroke-width="1.6"/>
    <path d="M514.5,565 Q526,570 533,581 Q538,590 541,603 L547,623 Q551,634 558,639 Q562,642 566,644" stroke="#000" stroke-width="3.6"/>
    <path d="M514.5,565 Q526,570 533,581 Q538,590 541,603 L547,623 Q551,634 558,639 Q562,642 566,644" stroke="#fff" stroke-width="1.8"/>
  </g>
  <path d="M564,642 L575,637 L580,645 L569,651 Z" fill="#222" stroke="#000" stroke-width="1.1"/>
  <path d="M569,646 L577,642.5" stroke="#aaa" stroke-width="1"/>
  <g fill="#111"><ellipse cx="517" cy="555" rx="3.8" ry="4.2"/><ellipse cx="513" cy="565" rx="3.8" ry="4.2"/></g>
  <g fill="#fff"><ellipse cx="516.5" cy="554.5" rx="1.4" ry="1.8"/><ellipse cx="512.5" cy="564.5" rx="1.4" ry="1.8"/></g>
  <!-- big hoses -->
  <g fill="none">
    <path d="M541,537 Q560,575 580,610 Q594,635 603,655" stroke="#000" stroke-width="12.5"/>
    <path d="M541,537 Q560,575 580,610 Q594,635 603,655" stroke="url(#hatch)" stroke-width="10"/>
    <path d="M557.5,528.6 Q577,565 597,602 Q610,628 619,647" stroke="#000" stroke-width="12.5"/>
    <path d="M557.5,528.6 Q577,565 597,602 Q610,628 619,647" stroke="url(#hatch)" stroke-width="10"/>
    <path d="M541.5,538 Q547,548 553,561" stroke="url(#coil)" stroke-width="10"/>
    <path d="M558,529.6 Q564,540 571,554" stroke="url(#coil)" stroke-width="10"/>
    <path d="M587,621 Q594,634 601,651" stroke="url(#coil)" stroke-width="10"/>
    <path d="M604,614 Q611,628 617,643" stroke="url(#coil)" stroke-width="10"/>
  </g>
  <!-- hose end fittings top -->
  <ellipse cx="538.8" cy="530.8" rx="4.8" ry="4.5" fill="#fff" stroke="#000" stroke-width="1.8"/>
  <ellipse cx="538.8" cy="530.8" rx="1.8" ry="1.6" fill="#111"/>
  <ellipse cx="555" cy="522.8" rx="4.8" ry="4.5" fill="#fff" stroke="#000" stroke-width="1.8"/>
  <ellipse cx="555" cy="522.8" rx="1.8" ry="1.6" fill="#111"/>
  <!-- hose end nozzles bottom -->
  <g transform="rotate(64 604.5 657)"><rect x="598" y="653" width="13" height="8" rx="2" fill="#fff" stroke="#000" stroke-width="1.2"/><path class="l" d="M601,653 L601,661 M604,653 L604,661 M607,653 L607,661"/></g>
  <g transform="rotate(64 620.5 648)"><rect x="614" y="644" width="13" height="8" rx="2" fill="#fff" stroke="#000" stroke-width="1.2"/><path class="l" d="M617,644 L617,652 M620,644 L620,652 M623,644 L623,652"/></g>
  <ellipse cx="607.5" cy="662.5" rx="2.8" ry="2.2" fill="#111"/><ellipse cx="623.5" cy="653.5" rx="2.8" ry="2.2" fill="#111"/>
  <!-- heat exchanger top fittings -->
  <g>
    <path d="M446,527.4 L450.4,527.4 L450.4,539 L446,539 Z" fill="#222"/>
    <path d="M453.6,524 L457.4,524 L457.4,542.5 L453.6,542.5 Z" fill="#222"/>
    <path d="M462.2,519.8 L466,519.8 L466,538 L462.2,538 Z" fill="#222"/>
    <path d="M469.2,522 L473,522 L473,533.8 L469.2,533.8 Z" fill="#333"/>
    <path class="l" d="M448,528 L448,538 M455.5,525 L455.5,541 M464,521 L464,537" stroke="#888" stroke-width="0.8"/>
    <ellipse cx="439" cy="527" rx="3.8" ry="2.2" fill="#222"/>
    <rect x="435.2" y="527" width="7.6" height="8" fill="#222"/>
    <ellipse cx="439" cy="531" rx="2" ry="2.5" fill="#888"/>
    <path d="M468.7,522 L468.7,564" stroke="#000" stroke-width="2.4"/>
    <path class="w" d="M460,567 Q466,564 470,567 L470,572 Q465,574 460,571 Z" stroke-width="1.2"/>
    <path class="w" d="M459.5,549 Q462,546 466,548 L466,553 Q463,556 459.5,554 Z" stroke-width="1.3"/>
    <path d="M452,545.5 L437,550.5 L437.5,552.5 L452.5,547.5 Z" fill="#111"/>
    <ellipse cx="451.8" cy="551" rx="2.2" ry="2.8" class="w" stroke-width="1.2"/>
    <path class="d" d="M439,503.6 L439,525"/>
  </g>
  <!-- right fitting cluster -->
  <g>
    <path class="w" d="M564.3,470.4 L587.7,460.5 L587.7,473.5 L564.3,483.6 Z" stroke-width="1"/>
    <rect x="562.8" y="461" width="3.6" height="32" fill="#999" stroke="#000" stroke-width="0.7"/>
    <ellipse cx="562" cy="457.8" rx="4" ry="4.2" fill="#222"/>
    <ellipse cx="562" cy="456.5" rx="2.2" ry="1.5" fill="#777"/>
    <rect x="569.4" y="456.7" width="4" height="21" fill="#666" stroke="#000" stroke-width="0.7"/>
    <rect x="576.5" y="460.3" width="4" height="11.5" fill="#666" stroke="#000" stroke-width="0.7"/>
    <path d="M590.2,458.5 L590.2,503" stroke="#000" stroke-width="3"/>
    <ellipse cx="585.5" cy="479" rx="3" ry="3.6" fill="#222"/>
    <ellipse cx="585.5" cy="499.8" rx="4.5" ry="3" fill="#fff" stroke="#000" stroke-width="1.2"/>
    <ellipse cx="581" cy="485.6" rx="3.5" ry="3" fill="#fff" stroke="#000" stroke-width="1.2"/>
  </g>
  <path d="M447,651 L437,656.5" stroke="#000" stroke-width="2.2"/>
  <path class="w" d="M471,642 L479,638 L480,650 L472,654 Z" stroke-width="0.9"/>
  <path class="l" d="M444,672 L448,676 L452,674" stroke-width="0.9"/>
  <!-- cart base front strip detail -->
  <g fill="#111"><circle cx="446" cy="673" r="0.8"/><circle cx="458" cy="668" r="0.8"/><circle cx="461" cy="676" r="0.8"/><circle cx="476" cy="678" r="0.8"/><circle cx="481" cy="675" r="0.8"/></g>
</g>
<g id="lowerleft">
  <!-- tube -->
  <path d="M348.8,456.2 L328,468 Q321,472 321,482 L321,533" fill="none" stroke="#000" stroke-width="3.6" stroke-linecap="round"/>
  <path d="M348.8,456.2 L328,468 Q321,472 321,482 L321,533" fill="none" stroke="#fff" stroke-width="1.8"/>
  <path d="M347,455.5 L350,459" stroke="#111" stroke-width="2.6"/>
  <path d="M319.5,533 L322.5,533" stroke="#111" stroke-width="3"/>
  <!-- three fittings -->
  <g>
    <ellipse cx="271.5" cy="568.5" rx="5" ry="6" fill="#222" transform="rotate(25 271.5 568.5)"/>
    <ellipse cx="272.5" cy="568" rx="2.6" ry="3.4" fill="#aaa" stroke="#000" stroke-width="0.8" transform="rotate(25 272.5 568)"/>
    <ellipse cx="257" cy="576.5" rx="4.2" ry="5.6" fill="#ddd" stroke="#000" stroke-width="2.2" transform="rotate(25 257 576.5)"/>
    <ellipse cx="257" cy="576.5" rx="1.8" ry="2.8" fill="#fff" stroke="#000" stroke-width="1" transform="rotate(25 257 576.5)"/>
    <path d="M243,578 L249,576 L252,581 L251,588 L245,590 L242,586 Z" fill="#333"/>
    <ellipse cx="242.5" cy="585" rx="4.5" ry="5.5" fill="#ccc" stroke="#000" stroke-width="1.6" transform="rotate(25 242.5 585)"/>
    <ellipse cx="242" cy="585.5" rx="2.5" ry="3.2" fill="#fff" stroke="#000" stroke-width="0.8" transform="rotate(25 242 585.5)"/>
  </g>
  <!-- left panel -->
  <path class="w" d="M265.8,614.6 L301.4,594 L337.5,614.6 L301.4,635.3 Z" stroke-width="1.2"/>
  <path class="w" d="M265.8,614.6 L301.4,635.3 L301.4,660 L293.7,662.3 L293.7,764.2 L265.8,750 Z" stroke-width="1.2"/>
  <path class="w" d="M301.4,635.3 L337.5,614.6 L337.5,636 L329.8,641.7 L293.7,662.3 L301.4,660 Z" stroke-width="1.2"/>
  <path class="w" d="M293.7,662.3 L329.8,641.7 L328.5,744.8 L293.7,764.2 Z" stroke-width="1.2"/>
  <path class="w" d="M306.6,669.5 L313,666 L313,719.5 L306.6,723 Z" stroke-width="1"/>
  <path class="w" d="M303.6,643 L313.5,637.5 L313.5,649 L303.6,654.5 Z" stroke-width="1.1"/>
  <path class="w" d="M323.5,631.5 L333.5,626 L333.5,638 L323.5,643.5 Z" stroke-width="1.1"/>
  <path class="l" d="M316,638 L321,635" stroke-width="1.5"/>
  <path class="l" d="M301.5,660 Q299,666 302,668 Q305,667 305,662" stroke-width="1.1"/>
  <path class="l" d="M265.8,634 Q272,633 274,638 Q273,642 268,641" stroke-width="1"/>
  <circle cx="272" cy="647" r="1.2" class="l"/><circle cx="279.5" cy="642.5" r="0.8" fill="#111"/>
  <circle cx="272" cy="752" r="1.2" class="l"/><circle cx="279.5" cy="748" r="0.8" fill="#111"/>
  <g fill="#111"><circle cx="297.5" cy="741" r="0.7"/><circle cx="297.5" cy="748" r="0.7"/><circle cx="309.5" cy="734.5" r="0.7"/><circle cx="309.5" cy="741" r="0.7"/></g>
  <!-- bottom bracket -->
  <path class="w" d="M339,750 L347,746 L347,761 L339,765 Z" stroke-width="1.1"/>
  <path class="w" d="M347,746 Q356,752 366,747 L366,755 Q356,760 347,755 Z" stroke-width="1.1"/>
  <path class="l" d="M350,747.5 L350,756 M362,748.5 L362,757" stroke-width="0.8"/>
  <path class="w" d="M334,764 L341,760.5 L353,766 L353,771 L341,777 L334,774 Z" stroke-width="1.1"/>
  <path class="l" d="M334,764 L341,767.5 L353,766 M341,767.5 L341,777" stroke-width="0.9"/>
  <path class="l" d="M346.5,752.6 L378.7,773.2" stroke-width="1"/>
  <circle cx="378.7" cy="773.2" r="1.3" fill="#111"/><circle cx="365" cy="764.5" r="0.9" fill="#111"/>
  <!-- heater element -->
  <path class="w" d="M405.4,677 L409,677 L409,700 L405.4,700 Z" stroke-width="1"/>
  <path class="w" d="M412.2,677 L416.3,677 L416.3,700 L412.2,700 Z" stroke-width="1"/>
  <ellipse cx="414.2" cy="692" rx="4" ry="2.2" fill="#111"/>
  <ellipse cx="410.6" cy="706.5" rx="13.3" ry="6" fill="#111"/>
  <ellipse cx="410.6" cy="703" rx="12.8" ry="5.2" fill="#fff" stroke="#000" stroke-width="1.6"/>
  <path class="l" d="M406.5,698 L406.5,727 M409.5,698 L409.5,727 M413,708 L413,722 M416,708 L416,722" stroke-width="1"/>
  <path class="w" d="M398.4,731 L398.4,766 A12.2,6 0 0 0 422.8,766 L422.8,731 Z" stroke-width="1.2"/>
  <ellipse cx="410.6" cy="731.5" rx="12.4" ry="5.8" fill="#111"/>
  <ellipse cx="410.6" cy="729.8" rx="11.6" ry="4.6" fill="#fff" stroke="#000" stroke-width="1"/>
  <path class="l" d="M406.5,715 L406.5,731 M409.5,715 L409.5,731" stroke-width="1"/>
  <path class="l" d="M414,727 Q417,725 418,729" stroke-width="0.9"/>
</g>
<g id="rightpanel">
  <path class="w" d="M707.3,417.3 L744.7,406.4 L744.7,506.4 L708.6,527 Z" stroke-width="1.2"/>
  <path class="w" d="M717,395.6 L752,376 L753,400.4 L717,420 Z" stroke-width="1.2"/>
  <path class="w" d="M682,376.3 L717,355.8 L752,372.7 L717,395.6 Z" stroke-width="1.2"/>
  <path class="l" d="M682,376.3 L682,380 L684,380" stroke-width="1"/>
  <path class="l" d="M706,396 L706,414 Q712,418 707,420" stroke-width="1"/>
  <path class="w" d="M720,403 L730,397.5 L730,409 L720,414.5 Z" stroke-width="1.1"/>
  <path class="w" d="M737,394 L747,388.5 L747,400 L737,405.5 Z" stroke-width="1.1"/>
  <path class="l" d="M732,395 L736,393" stroke-width="1.4"/>
  <path class="w" d="M721.8,433 L729,429.3 L729,481 L721.8,484.8 Z" stroke-width="1"/>
  <path class="l" d="M727,416 Q725,420 727,423 Q730,422 729,417" stroke-width="1"/>
  <circle cx="752" cy="370.3" r="1.4" fill="#111"/><circle cx="752" cy="476.3" r="1.4" fill="#111"/>
  <path class="l" d="M745,372 L752,370.3 M745,478 L752,476.3" stroke-width="0.6"/>
</g>
<g id="leaders">
  <path class="d" d="M581.9,259.8 L581.9,311.9 L510.6,352.3 L510.6,481"/>
  <path class="d" d="M592.6,246 L592.6,317.2 L520.2,358.7 L520.2,486"/>
  <circle cx="510.6" cy="481.5" r="0.9" fill="#111"/><circle cx="520.2" cy="486.5" r="0.9" fill="#111"/>
  <path class="d" d="M321,535.5 L321,571 L438,506.5"/>
  <path class="d" d="M275.7,565 L330.5,595.4 L437,537.5"/>
  <path class="d" d="M332.3,609.5 L436,550.7"/>
  <path class="d" d="M328.5,719 L441,655"/>
  <path class="d" d="M352,736.3 L390.4,757.6 L391.5,774.7 L409.6,784.3 L410.7,773.6"/>
  <path class="d" d="M320,740.5 L336,749"/>
  <path class="d" d="M562.6,445 L611,417"/>
  <path class="d" d="M570,457 L596.6,443.4"/>
  <path class="d" d="M591.5,462 L706.4,396.6"/>
  <!-- bulkhead fitting parts -->
  <ellipse cx="598.5" cy="440" rx="4.5" ry="5" fill="#111" transform="rotate(25 598.5 440)"/>
  <ellipse cx="599" cy="440" rx="2" ry="2.5" fill="#fff"/>
  <ellipse cx="616" cy="429.5" rx="3.6" ry="5.2" fill="#ccc" stroke="#000" stroke-width="2.2" transform="rotate(25 616 429.5)"/><ellipse cx="616" cy="429.5" rx="1.4" ry="2.4" fill="#fff" stroke="#000" stroke-width="0.8" transform="rotate(25 616 429.5)"/>
  <path class="w" d="M625,418.5 L633,416 L637,421 L636,427 L628,429 Z" stroke-width="1.1"/>
  <ellipse cx="626" cy="423.5" rx="3" ry="4.5" fill="#fff" stroke="#000" stroke-width="1.2"/>
  <path d="M631,417 L636,421 L635.5,427 L630,428 Z" fill="#333"/>
</g>
<g id="callarrow">
  <path d="M631,648 L659,648" stroke="#000" stroke-width="1.6"/>
  <path d="M624.5,648 L632,644 L632,652 Z" fill="#000"/>
  <circle cx="659" cy="648" r="3.6" fill="#000"/>
</g>
</svg>
<div id="t">H20/25/35 Pro</div><div id="t2">Final Assy</div>
<div id="callout"><div id="cn">117677</div><div id="cr">Reducer Fitting</div></div>
</body></html>
